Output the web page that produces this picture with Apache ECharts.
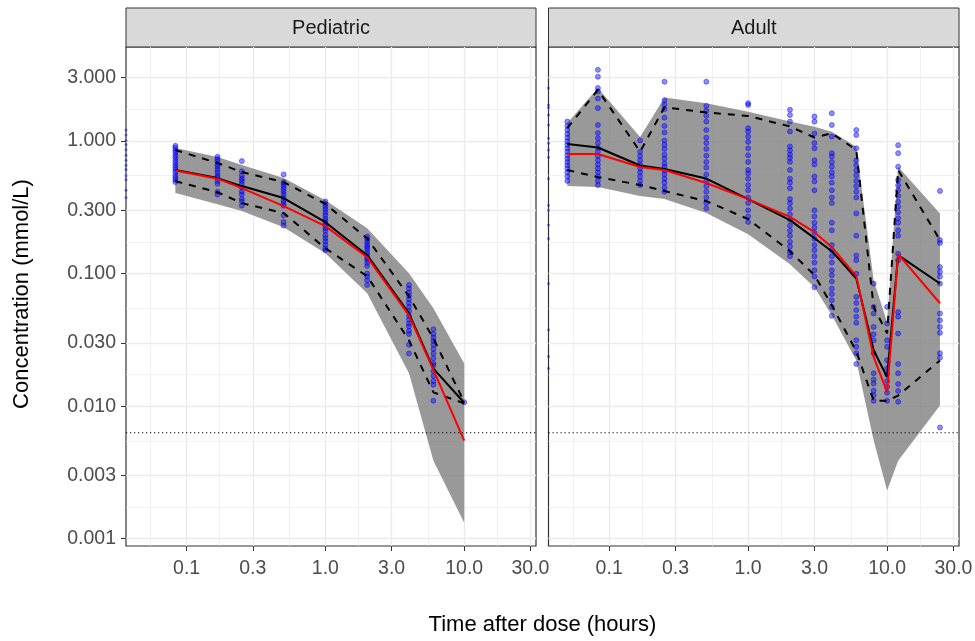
<!DOCTYPE html>
<html><head><meta charset="utf-8">
<script src="https://cdn.jsdelivr.net/npm/echarts@6/dist/echarts.min.js"></script>
<style>html,body{margin:0;padding:0;background:#fff}#chart{width:975px;height:641px}</style>
</head><body><div id="chart"></div>
<script>
const FONT = '"Liberation Sans", Arial, Helvetica, sans-serif';

// ---- axis breaks / tick labels ----
const xBreaks = [0.03, 0.1, 0.3, 1, 3, 10, 30];
const xTickLabels = ['0.03', '0.1', '0.3', '1.0', '3.0', '10.0', '30.0'];
const yBreaks = [0.001, 0.003, 0.01, 0.03, 0.1, 0.3, 1, 3];
const yTickLabels = ['0.001', '0.003', '0.010', '0.030', '0.100', '0.300', '1.000', '3.000'];
const xLimits = [0.0366, 32.9];
const yLimits = [0.000881, 5.117];
const LLOQ = 0.0063;
const panelNames = ['Pediatric', 'Adult'];
const xTitle = 'Time after dose (hours)';
const yTitle = 'Concentration (mmol/L)';

// ---- Pediatric ----
const pedTimes = [0.083, 0.167, 0.25, 0.5, 1, 2, 4, 6, 10];
const pedBandHi = [0.886, 0.757, 0.659, 0.525, 0.358, 0.220, 0.1005, 0.0547, 0.0210];
const pedBandLo = [0.405, 0.334, 0.296, 0.224, 0.1425, 0.071, 0.0177, 0.00388, 0.00132];
const pedUpper = [0.855, 0.682, 0.583, 0.490, 0.335, 0.184, 0.0674, 0.0325, 0.0107];
const pedLower = [0.498, 0.411, 0.340, 0.286, 0.155, 0.0955, 0.0314, 0.0127, 0.0105];
const pedMedian = [0.604, 0.525, 0.457, 0.371, 0.244, 0.1376, 0.0501, 0.0192, 0.0106];
const pedPred = [0.600, 0.520, 0.441, 0.323, 0.228, 0.1329, 0.0484, 0.0188, 0.0055];
const pedObs = [
  [0.92, 0.89, 0.85, 0.82, 0.78, 0.75, 0.715, 0.685, 0.655, 0.63, 0.605, 0.58, 0.55, 0.53, 0.51, 0.49],
  [0.76, 0.73, 0.70, 0.665, 0.64, 0.61, 0.58, 0.55, 0.53, 0.50, 0.475, 0.415, 0.395],
  [0.705, 0.59, 0.55, 0.52, 0.50, 0.475, 0.445, 0.415, 0.395, 0.365, 0.35, 0.325],
  [0.56, 0.49, 0.475, 0.455, 0.435, 0.415, 0.395, 0.375, 0.355, 0.34, 0.325, 0.275, 0.245, 0.23],
  [0.35, 0.335, 0.32, 0.305, 0.29, 0.275, 0.26, 0.25, 0.24, 0.23, 0.22, 0.21, 0.195, 0.185, 0.175, 0.165, 0.155, 0.15],
  [0.19, 0.182, 0.174, 0.166, 0.159, 0.153, 0.145, 0.138, 0.132, 0.127, 0.121, 0.114, 0.1, 0.095, 0.089, 0.082],
  [0.082, 0.077, 0.072, 0.068, 0.064, 0.06, 0.056, 0.052, 0.048, 0.045, 0.042, 0.04, 0.037, 0.035, 0.029, 0.025],
  [0.038, 0.035, 0.033, 0.031, 0.029, 0.027, 0.025, 0.023, 0.021, 0.0203, 0.0184, 0.0169, 0.0155, 0.0145, 0.011],
  [0.0107]
];
const pedPredose = [1.21, 1.11, 1.01, 0.94, 0.86, 0.78, 0.715, 0.655, 0.61, 0.55, 0.51, 0.425, 0.375];

// ---- Adult ----
const adTimes = [0.05, 0.083, 0.167, 0.25, 0.5, 1, 2, 3, 4, 6, 8, 10, 12, 24];
const adBandHi = [1.368, 2.515, 1.072, 2.124, 1.927, 1.665, 1.40, 1.283, 1.175, 0.906, 0.089, 0.0429, 0.639, 0.284];
const adBandLo = [0.457, 0.449, 0.384, 0.3645, 0.286, 0.1983, 0.1176, 0.0788, 0.0484, 0.0221, 0.0055, 0.00231, 0.00388, 0.0101];
const adUpper = [1.254, 2.429, 0.831, 1.797, 1.642, 1.545, 1.287, 1.062, 1.143, 0.855, 0.0559, 0.0354, 0.604, 0.1787];
const adLower = [0.604, 0.534, 0.466, 0.419, 0.352, 0.2575, 0.1475, 0.0972, 0.0577, 0.0259, 0.0110, 0.0110, 0.0120, 0.0221];
const adMedian = [0.949, 0.893, 0.653, 0.614, 0.521, 0.3645, 0.253, 0.1849, 0.1475, 0.0918, 0.0264, 0.01655, 0.1376, 0.0841];
const adPred = [0.798, 0.798, 0.636, 0.604, 0.482, 0.364, 0.268, 0.2053, 0.1581, 0.0955, 0.0235, 0.01275, 0.140, 0.0597];
const adObs = [
  [1.40, 1.30, 1.21, 1.13, 1.06, 0.995, 0.935, 0.88, 0.83, 0.78, 0.735, 0.695, 0.655, 0.62, 0.58, 0.54, 0.50],
  [3.44, 3.05, 2.51, 2.37, 2.09, 1.77, 1.32, 1.15, 1.05, 0.965, 0.89, 0.83, 0.77, 0.715, 0.665, 0.62, 0.58, 0.54, 0.50, 0.465],
  [1.01, 0.83, 0.77, 0.715, 0.665, 0.62, 0.58, 0.54, 0.50, 0.465],
  [2.8, 2.03, 1.88, 1.74, 1.5, 1.3, 1.16, 1.01, 0.935, 0.87, 0.79, 0.735, 0.675, 0.64, 0.6, 0.56, 0.52, 0.485, 0.445, 0.415],
  [2.8, 1.84, 1.69, 1.55, 1.4, 1.21, 1.06, 0.965, 0.87, 0.775, 0.695, 0.63, 0.56, 0.5, 0.455, 0.415, 0.375, 0.34, 0.31],
  [1.93, 1.87, 1.25, 1.18, 1.08, 0.985, 0.88, 0.78, 0.695, 0.605, 0.57, 0.52, 0.465, 0.425, 0.375, 0.34, 0.3, 0.27, 0.245],
  [1.72, 1.57, 1.4, 1.18, 0.91, 0.85, 0.79, 0.745, 0.695, 0.605, 0.52, 0.485, 0.44, 0.365, 0.34, 0.31, 0.28, 0.255, 0.23, 0.21, 0.193, 0.174, 0.16, 0.145, 0.135],
  [1.53, 1.4, 1.14, 0.965, 0.88, 0.715, 0.665, 0.54, 0.495, 0.425, 0.3, 0.27, 0.242, 0.222, 0.203, 0.183, 0.164, 0.15, 0.135, 0.121, 0.106, 0.095, 0.079],
  [1.62, 1.32, 1.08, 0.81, 0.765, 0.695, 0.64, 0.58, 0.54, 0.485, 0.425, 0.375, 0.34, 0.242, 0.212, 0.164, 0.15, 0.135, 0.121, 0.106, 0.097, 0.087, 0.077, 0.07, 0.063, 0.056, 0.048],
  [1.21, 1.11, 0.88, 0.715, 0.655, 0.6, 0.55, 0.5, 0.455, 0.415, 0.375, 0.284, 0.193, 0.137, 0.126, 0.0995, 0.0667, 0.06, 0.053, 0.0473, 0.0425, 0.0314, 0.028, 0.0251, 0.0208],
  [0.084, 0.056, 0.05, 0.0396, 0.0348, 0.0314, 0.0251, 0.0177, 0.0159, 0.0148, 0.0131, 0.0121, 0.011],
  [0.056, 0.042, 0.0314, 0.028, 0.0222, 0.0193, 0.0174, 0.0155, 0.014, 0.0126, 0.011],
  [0.93, 0.81, 0.64, 0.507, 0.464, 0.425, 0.386, 0.348, 0.319, 0.29, 0.261, 0.242, 0.212, 0.193, 0.141, 0.126, 0.0512, 0.0473, 0.0353, 0.0208, 0.0177, 0.0147, 0.013, 0.0108],
  [0.42, 0.179, 0.17, 0.112, 0.103, 0.095, 0.084, 0.05, 0.0444, 0.0396, 0.0357, 0.0251, 0.0232, 0.0069]
];
const adPredose = [2.51, 1.87, 1.78, 1.57, 1.32, 1.05, 0.965, 0.855, 0.755, 0.52, 0.328, 0.3, 0.232, 0.184, 0.084, 0.0377, 0.0237, 0.0193];

// ---- build ----
const L10 = Math.log10;
const xLog = xLimits.map(L10), yLog = yLimits.map(L10);
function inRange(v, r) { return v >= r[0] - 1e-9 && v <= r[1] + 1e-9; }
function majors(breaks, r) { return breaks.map(L10).filter(v => inRange(v, r)); }
function minors(breaks, r) {
  const out = [];
  for (let i = 0; i < breaks.length - 1; i++) out.push((L10(breaks[i]) + L10(breaks[i + 1])) / 2);
  return out.filter(v => inRange(v, r));
}
function fmt(breaks, labels) {
  return function (val) {
    for (let i = 0; i < breaks.length; i++) if (Math.abs(L10(breaks[i]) - val) < 1e-4) return labels[i];
    return '';
  };
}
const GRID_COLOR = '#ebebeb';
const TICK_FONT = 19.5;
const grids = [
  { left: 126, top: 47, width: 410, height: 499 },
  { left: 548.5, top: 47, width: 410.5, height: 499 }
];
const xAxes = [], yAxes = [];
grids.forEach((g, gi) => {
  xAxes.push({ type: 'log', gridIndex: gi, min: xLimits[0], max: xLimits[1], show: false });
  xAxes.push({ type: 'value', gridIndex: gi, position: 'bottom', min: xLog[0], max: xLog[1],
    axisLine: { show: false, onZero: false },
    axisTick: { show: true, customValues: majors(xBreaks, xLog), length: 5, lineStyle: { color: '#333333', width: 1 } },
    axisLabel: { show: true, customValues: majors(xBreaks, xLog), formatter: fmt(xBreaks, xTickLabels),
      color: '#4d4d4d', fontSize: TICK_FONT, fontFamily: FONT, margin: 12.5 },
    splitLine: { show: true, lineStyle: { color: GRID_COLOR, width: 1.3 } } });
  xAxes.push({ type: 'value', gridIndex: gi, position: 'bottom', min: xLog[0], max: xLog[1],
    axisLine: { show: false, onZero: false }, axisLabel: { show: false },
    axisTick: { show: false, customValues: minors(xBreaks, xLog) },
    splitLine: { show: true, lineStyle: { color: GRID_COLOR, width: 0.7 } } });
  yAxes.push({ type: 'log', gridIndex: gi, min: yLimits[0], max: yLimits[1], show: false });
  yAxes.push({ type: 'value', gridIndex: gi, position: 'left', min: yLog[0], max: yLog[1],
    axisLine: { show: false, onZero: false },
    axisTick: { show: gi === 0, customValues: majors(yBreaks, yLog), length: 5, lineStyle: { color: '#333333', width: 1 } },
    axisLabel: { show: gi === 0, customValues: majors(yBreaks, yLog), formatter: fmt(yBreaks, yTickLabels),
      color: '#4d4d4d', fontSize: TICK_FONT, fontFamily: FONT, margin: 10 },
    splitLine: { show: true, lineStyle: { color: GRID_COLOR, width: 1.3 } } });
  yAxes.push({ type: 'value', gridIndex: gi, position: 'left', min: yLog[0], max: yLog[1],
    axisLine: { show: false, onZero: false }, axisLabel: { show: false },
    axisTick: { show: false, customValues: minors(yBreaks, yLog) },
    splitLine: { show: true, lineStyle: { color: GRID_COLOR, width: 0.7 } } });
});

const panelData = [
  { times: pedTimes, hi: pedBandHi, lo: pedBandLo, up: pedUpper, low: pedLower, med: pedMedian, pred: pedPred, obs: pedObs, pre: pedPredose },
  { times: adTimes, hi: adBandHi, lo: adBandLo, up: adUpper, low: adLower, med: adMedian, pred: adPred, obs: adObs, pre: adPredose }
];
const series = [];
panelData.forEach((p, gi) => {
  const ax = gi * 3;
  series.push({
    type: 'custom', xAxisIndex: ax, yAxisIndex: ax, silent: true, z: 1,
    data: p.times.map((t, i) => [t, p.lo[i], p.hi[i]]),
    encode: { x: 0, y: [1, 2] },
    renderItem: function (params, api) {
      if (params.dataIndex !== 0) return null;
      const top = p.times.map((t, i) => api.coord([t, p.hi[i]]));
      const bot = p.times.map((t, i) => api.coord([t, p.lo[i]])).reverse();
      return { type: 'polygon', shape: { points: top.concat(bot) }, style: { fill: 'rgba(128,128,128,0.8)' } };
    }
  });
  // LLOQ reference line across the panel
  series.push({
    type: 'line', xAxisIndex: ax, yAxisIndex: ax, silent: true, z: 2,
    data: [[xLimits[0], LLOQ], [xLimits[1], LLOQ]], showSymbol: false, symbol: 'none',
    lineStyle: { color: '#000000', width: 1, type: [1.2, 2.8] }
  });
  const pts = [];
  p.times.forEach((t, i) => p.obs[i].forEach(c => pts.push([t, c])));
  series.push({
    type: 'scatter', xAxisIndex: ax, yAxisIndex: ax, silent: true, z: 2,
    data: pts, symbol: 'circle', symbolSize: 5,
    itemStyle: { color: 'rgba(0,0,255,0.55)', borderColor: 'rgba(0,0,255,0.8)', borderWidth: 0.7 }
  });
  series.push({
    type: 'scatter', xAxisIndex: ax, yAxisIndex: ax, silent: true, z: 2, clip: false,
    data: p.pre.map(c => [xLimits[0], c]), symbol: 'circle', symbolSize: 3,
    itemStyle: { color: 'rgba(0,0,255,0.6)' }
  });
  const line = (arr, color, type, z) => ({
    type: 'line', xAxisIndex: ax, yAxisIndex: ax, silent: true, z: z,
    data: p.times.map((t, i) => [t, arr[i]]), showSymbol: false, symbol: 'none',
    lineStyle: { color: color, width: 2, type: type }
  });
  series.push(line(p.up, '#000000', [7, 7], 3));
  series.push(line(p.low, '#000000', [7, 7], 3));
  series.push(line(p.med, '#000000', 'solid', 4));
  series.push(line(p.pred, '#ff0000', 'solid', 5));
});

const graphic = [];
grids.forEach((g, gi) => {
  graphic.push({ type: 'rect', shape: { x: g.left, y: 8, width: g.width, height: 39 },
    style: { fill: '#d9d9d9', stroke: '#333333', lineWidth: 1 }, silent: true });
  graphic.push({ type: 'text', x: g.left + g.width / 2, y: 28, silent: true,
    style: { text: panelNames[gi], fontSize: 20, fontFamily: FONT, fill: '#1a1a1a', align: 'center', verticalAlign: 'middle' } });
});
graphic.push({ type: 'text', x: 542.5, y: 625, silent: true,
  style: { text: xTitle, fontSize: 22, fontFamily: FONT, fill: '#000', align: 'center', verticalAlign: 'middle' } });
graphic.push({ type: 'text', x: 22, y: 294, rotation: Math.PI / 2, silent: true,
  style: { text: yTitle, fontSize: 22, fontFamily: FONT, fill: '#000', align: 'center', verticalAlign: 'middle' } });

const chart = echarts.init(document.getElementById('chart'), null, { renderer: 'canvas' });
chart.setOption({
  animation: false,
  backgroundColor: '#ffffff',
  textStyle: { fontFamily: FONT },
  grid: grids.map(g => Object.assign({ show: true, borderColor: '#333333', borderWidth: 1.2, backgroundColor: 'transparent', containLabel: false, outerBoundsMode: 'none' }, g)),
  xAxis: xAxes,
  yAxis: yAxes,
  series: series,
  graphic: graphic
});
</script>
</body></html>
